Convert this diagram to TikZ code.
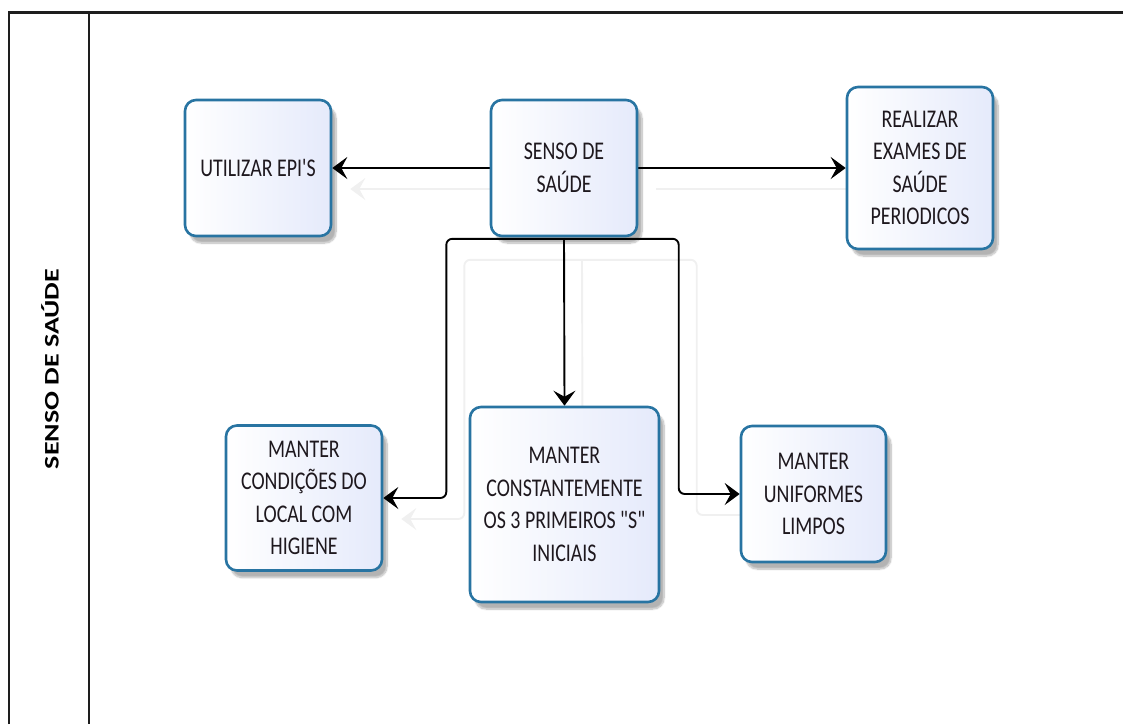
\documentclass[tikz,border=0pt]{standalone}
\usepackage{fontspec}
\newfontfamily\boxfont[FakeStretch=0.78]{Carlito}
\newfontfamily\lanefont{Carlito}
\usetikzlibrary{arrows.meta,calc,shadows.blur}
\pgfdeclarelayer{bg}
\pgfsetlayers{bg,main}

\definecolor{boxline}{RGB}{40,116,162}
\definecolor{boxfill}{RGB}{229,234,251}
\definecolor{textcol}{RGB}{30,24,30}
\definecolor{framecol}{RGB}{30,30,30}

% all connectors of the diagram, drawn with the style given as argument
\newcommand\drawlinks[1]{%
  \draw[#1] (senso.west) -- (epi.east);
  \draw[#1] (senso.east) -- (realizar.west);
  \draw[#1, rounded corners=6pt] (hub) -| ($(condicoes.east)+(63,0)$) -- (condicoes.east);
  \draw[#1] (hub) -- (constante.north);
  \draw[#1, rounded corners=6pt] (hub) -| ($(uniformes.west)+(-61,0)$) -- (uniformes.west);
}

\begin{document}
\begin{tikzpicture}[x=1pt,y=-1pt,
  box/.style={draw=boxline, line width=2.6pt, rounded corners=11pt,
    left color=white, right color=boxfill, text=textcol, align=center,
    inner sep=0pt, font=\boxfont\fontsize{25.5}{32.5}\selectfont,
    blur shadow={shadow xshift=5pt, shadow yshift=-7pt,
      shadow blur steps=10, shadow opacity=30}},
  link/.style={line width=1.9pt, black,
    -{Stealth[length=15pt,width=22pt,inset=6pt]}},
  ghostlink/.style={line width=1.9pt, black!6,
    -{Stealth[length=15pt,width=22pt,inset=6pt]}},
  frame/.style={line width=2.2pt, framecol}]
\useasboundingbox (0,0) rectangle (1123,724);

% lane frame
\draw[frame] (9,724) -- (9,12.5) -- (1123,12.5);
\draw[frame] (89,12.5) -- (89,724);
\node (lane) at (50,369) {\rotatebox{90}{\scalebox{1}[0.74]{\lanefont\bfseries\fontsize{28}{30}\selectfont SENSO DE SAÚDE}}};

% process boxes
\node[box, minimum width=146pt, minimum height=136pt] (epi) at (258,168) {UTILIZAR EPI'S};
\node[box, minimum width=146pt, minimum height=136pt] (senso) at (564,168) {SENSO DE\\SAÚDE};
\node[box, minimum width=146pt, minimum height=162pt] (realizar) at (920,168) {REALIZAR\\EXAMES DE\\SAÚDE\\PERIODICOS};
\node[box, minimum width=156pt, minimum height=145pt] (condicoes) at (304,498) {MANTER\\CONDIÇÕES DO\\LOCAL COM\\HIGIENE};
\node[box, minimum width=189pt, minimum height=195pt] (constante) at (564.5,504.5) {MANTER\\CONSTANTEMENTE\\OS 3 PRIMEIROS "S"\\INICIAIS};
\node[box, minimum width=145pt, minimum height=136pt] (uniformes) at (813.5,494) {MANTER\\UNIFORMES\\LIMPOS};

\coordinate (hub) at ($(senso.south)+(0,1.5)$);

% connectors, behind the boxes, with their faint offset shadow
\begin{pgfonlayer}{bg}
  \begin{scope}[transform canvas={xshift=18pt, yshift=-21pt}]
    \drawlinks{ghostlink}
  \end{scope}
  \drawlinks{link}
\end{pgfonlayer}
\end{tikzpicture}
\end{document}
